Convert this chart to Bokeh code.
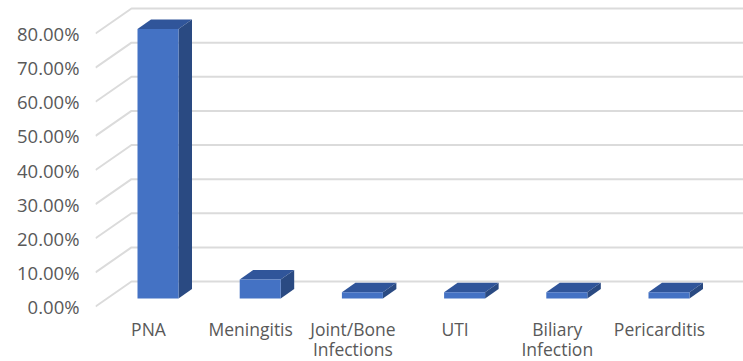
from bokeh.plotting import figure
from bokeh.models import FixedTicker, NumeralTickFormatter, Range1d
from bokeh.core.properties import value
from bokeh.embed import file_html
from bokeh.resources import INLINE

categories = ["PNA", "Meningitis", "Joint/Bone\nInfections", "UTI", "Biliary\nInfection", "Pericarditis"]
values = [0.79, 0.056, 0.018, 0.018, 0.018, 0.018]
ticks = [0, 0.1, 0.2, 0.3, 0.4, 0.5, 0.6, 0.7, 0.8]

X_PER_PX = 1 / 102.2
Y_PER_PX = 0.8 / 273
FONT = "Open Sans"
TEXT = "#595959"

p = figure(width=743, height=361, output_backend="svg", toolbar_location=None,
           x_range=Range1d(-53 * X_PER_PX, 595 * X_PER_PX),
           y_range=Range1d(-55 * Y_PER_PX, 306 * Y_PER_PX),
           min_border_left=95, min_border_right=0, min_border_top=0, min_border_bottom=0,
           outline_line_color=None, background_fill_color="white", border_fill_color="white")
p.grid.visible = False
p.xaxis.visible = False

# floor/wall lines
wall_dx, wall_dy = 36 * X_PER_PX, 25 * Y_PER_PX
x0 = -53 * X_PER_PX
xs = [[x0, x0 + wall_dx, 600 * X_PER_PX] for _ in ticks]
ys = [[t, t + wall_dy, t + wall_dy] for t in ticks]
p.multi_line(xs, ys, line_color="#DBDBDB", line_width=2)

# 3D bars
cx = [i + 9.5 * X_PER_PX for i in range(len(values))]
half = 20.5 * X_PER_PX
base = 8 * Y_PER_PX
dx, dy = 13.5 * X_PER_PX, 9.5 * Y_PER_PX
tops = [v + base for v in values]

top_x = [[c - half, c + half, c + half + dx, c - half + dx] for c in cx]
top_y = [[t, t, t + dy, t + dy] for t in tops]
side_x = [[c + half, c + half + dx, c + half + dx, c + half] for c in cx]
side_y = [[base, base + dy, t + dy, t] for t in tops]
p.patches(top_x, top_y, fill_color="#30559A", line_color=None)
p.patches(side_x, side_y, fill_color="#2A4A82", line_color=None)
p.quad(left=[c - half for c in cx], right=[c + half for c in cx],
       bottom=[base] * len(cx), top=tops, fill_color="#4472C4", line_color=None)

# category labels
label_y = -10.5 * Y_PER_PX
p.text(x=list(range(len(categories))), y=[label_y] * len(categories), text=categories,
       text_align="center", text_baseline="top", text_font=value(FONT),
       text_font_size=value("17.5px"), text_color=TEXT, text_line_height=0.82)

p.yaxis.ticker = FixedTicker(ticks=ticks)
p.yaxis.formatter = NumeralTickFormatter(format="0.00%")
p.yaxis.axis_line_color = None
p.yaxis.major_tick_line_color = None
p.yaxis.minor_tick_line_color = None
p.yaxis.major_tick_in = 0
p.yaxis.major_tick_out = 0
p.yaxis.major_label_standoff = 16
p.yaxis.major_label_text_font = FONT
p.yaxis.major_label_text_font_size = "18.5px"
p.yaxis.major_label_text_color = TEXT

open("out.html", "w").write(file_html(p, INLINE))
